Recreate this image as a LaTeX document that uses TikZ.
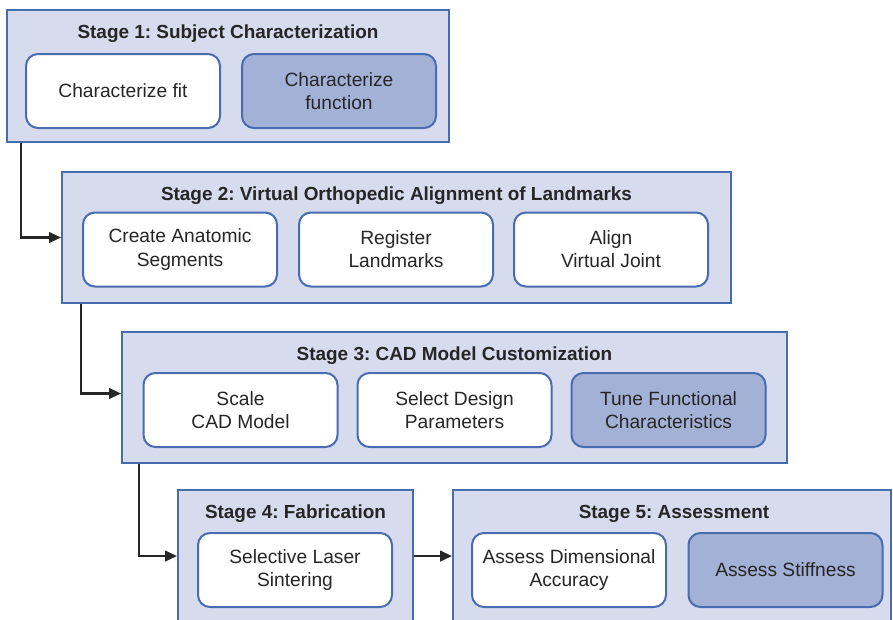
\documentclass[tikz,border=0pt]{standalone}
\usepackage{fontspec}
\setmainfont{Liberation Sans}
\usetikzlibrary{arrows.meta}
\frenchspacing

\definecolor{stagefill}{RGB}{214,219,237}
\definecolor{stageline}{RGB}{72,108,176}
\definecolor{taskdark}{RGB}{164,177,214}
\definecolor{inktext}{RGB}{38,38,38}

\begin{document}
\begin{tikzpicture}[x=0.75pt,y=0.75pt,yscale=-1,xscale=1,
  stagebox/.style={draw=stageline, line width=1.5pt, fill=stagefill, rectangle, inner sep=0pt},
  stagetitle/.style={anchor=center, inner sep=0.75pt, text=inktext, font=\fontsize{14.2}{17}\selectfont\bfseries},
  taskbox/.style={draw=stageline, line width=1.5pt, fill=white, rounded corners=9pt, minimum width=145.5pt, minimum height=55.5pt, inner sep=0pt, align=center, text=inktext, font=\fontsize{14.4}{17.4}\selectfont},
  taskfill/.style={taskbox, fill=taskdark},
  flow/.style={draw=inktext, line width=1.6pt, -{Triangle[length=9pt,width=8pt]}}]
\useasboundingbox (0,0) rectangle (893,619);

%Stage boxes
\node [stagebox, minimum width=331.5pt, minimum height=99pt] (stage1) at (228,76) {};
\node [stagebox, minimum width=501.75pt, minimum height=98.25pt] (stage2) at (396.5,237.5) {};
\node [stagebox, minimum width=498.75pt, minimum height=98.25pt] (stage3) at (454.5,397.5) {};
\node [stagebox, minimum width=176.25pt, minimum height=101.25pt] (stage4) at (295.5,557.5) {};
\node [stagebox, minimum width=328.5pt, minimum height=101.25pt] (stage5) at (672,557.5) {};

% Text Node (yshift is flipped by yscale=-1)
\node [stagetitle] (title1) at ([yshift=18.5pt]stage1.north) {Stage 1: Subject Characterization};
\node [stagetitle] (title2) at ([yshift=18.5pt]stage2.north) {Stage 2: Virtual Orthopedic Alignment of Landmarks};
\node [stagetitle] (title3) at ([yshift=18.5pt]stage3.north) {Stage 3: CAD Model Customization};
\node [stagetitle] (title4) at ([yshift=18.5pt]stage4.north) {Stage 4: Fabrication};
\node [stagetitle] (title5) at ([yshift=18.5pt,xshift=1.5pt]stage5.north) {Stage 5: Assessment};

%Tasks of stage 1
\node [taskbox] (fit) at (123,91) {Characterize fit};
\node [taskfill] (function) at (339,91) {Characterize\\function};
%Tasks of stage 2
\node [taskbox] (segments) at (180,249.5) {Create Anatomic\\Segments};
\node [taskbox] (landmarks) at (396,249.5) {Register\\Landmarks};
\node [taskbox] (joint) at (611,249.5) {Align\\Virtual Joint};
%Tasks of stage 3
\node [taskbox] (scale) at (240.5,410) {Scale\\CAD Model};
\node [taskbox] (params) at (454.5,410) {Select Design\\Parameters};
\node [taskfill] (tune) at (668.5,410) {Tune Functional\\Characteristics};
%Tasks of stage 4 and 5
\node [taskbox] (sintering) at (295,570) {Selective Laser\\Sintering};
\node [taskbox] (accuracy) at (569,570) {Assess Dimensional\\Accuracy};
\node [taskfill] (stiffness) at (785.5,570) {Assess Stiffness};

%Connectors
\draw [flow] ([xshift=11.25pt]stage1.south west) |- (stage2.west);
\draw [flow] ([xshift=15pt]stage2.south west) |- ([yshift=-3pt]stage3.west);
\draw [flow] ([xshift=13.5pt]stage3.south west) |- ([yshift=-1.1pt]stage4.west);
\draw [flow] ([yshift=-1.1pt]stage4.east) -- ([yshift=-1.1pt]stage4.east -| stage5.west);

\end{tikzpicture}
\end{document}
